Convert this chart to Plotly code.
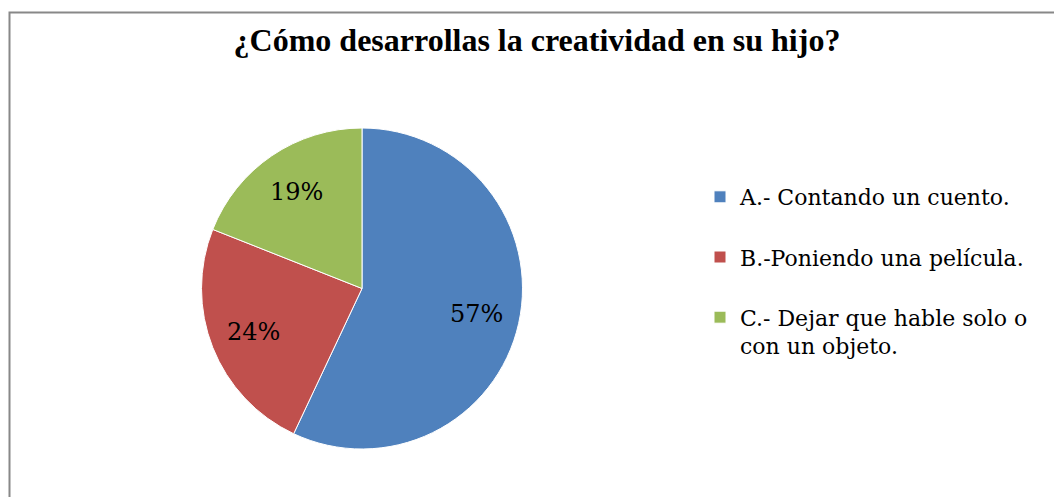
import math
import plotly.graph_objects as go

categories = ["A.- Contando un cuento.<br> ", "B.-Poniendo una película.<br> ", "C.- Dejar que hable solo o<br>con un objeto."]
values = [57, 24, 19]
colors = ["#4F81BD", "#C0504D", "#9BBB59"]
title_text = "¿Cómo desarrollas la creatividad en su hijo?"

W, H = 1054, 497
# pie geometry in pixels
cx, cy, R = 362, 288.5, 160.5
label_frac = 0.73

fig = go.Figure(go.Pie(
    labels=categories,
    values=values,
    sort=False,
    direction="clockwise",
    rotation=0,
    marker=dict(colors=colors, line=dict(color="white", width=1)),
    textinfo="none",
    domain=dict(x=[(cx - R) / W, (cx + R) / W], y=[1 - (cy + R) / H, 1 - (cy - R) / H]),
    hoverinfo="label+percent",
))

# percentage labels placed at each slice's mid-angle (computed from the data)
total = sum(values)
annotations = []
start = 0.0
for v in values:
    mid = start + v / total * 360 / 2
    start += v / total * 360
    ang = math.radians(mid)
    px = cx + label_frac * R * math.sin(ang)
    py = cy - label_frac * R * math.cos(ang)
    annotations.append(dict(
        x=px / W, y=1 - py / H, xref="paper", yref="paper",
        text=f"{round(v / total * 100)}%", showarrow=False,
        xanchor="center", yanchor="middle",
        font=dict(family="DejaVu Serif", size=24, color="black"),
    ))

fig.update_layout(
    width=W, height=H,
    margin=dict(l=0, r=0, t=0, b=0),
    paper_bgcolor="white",
    plot_bgcolor="white",
    title=dict(text="<b>" + title_text + "</b>", x=537 / W, xanchor="center",
               y=1 - 40 / H, yanchor="middle",
               font=dict(family="Liberation Serif", size=32, color="black")),
    legend=dict(x=700 / W, xanchor="left", y=1 - 176 / H, yanchor="top",
                font=dict(family="DejaVu Serif", size=22, color="black"),
                bgcolor="rgba(0,0,0,0)", tracegroupgap=0, valign="top"),
    showlegend=True,
    annotations=annotations,
    shapes=[dict(type="rect", xref="paper", yref="paper",
                 x0=9.5 / W, x1=1.1, y0=-0.1, y1=1 - 12.5 / H,
                 line=dict(color="#888888", width=2), fillcolor="rgba(0,0,0,0)", layer="above")],
)

fig.write_html("out.html", config={"displayModeBar": False},
               post_script="document.body.style.margin='0';document.body.style.overflow='hidden';")
